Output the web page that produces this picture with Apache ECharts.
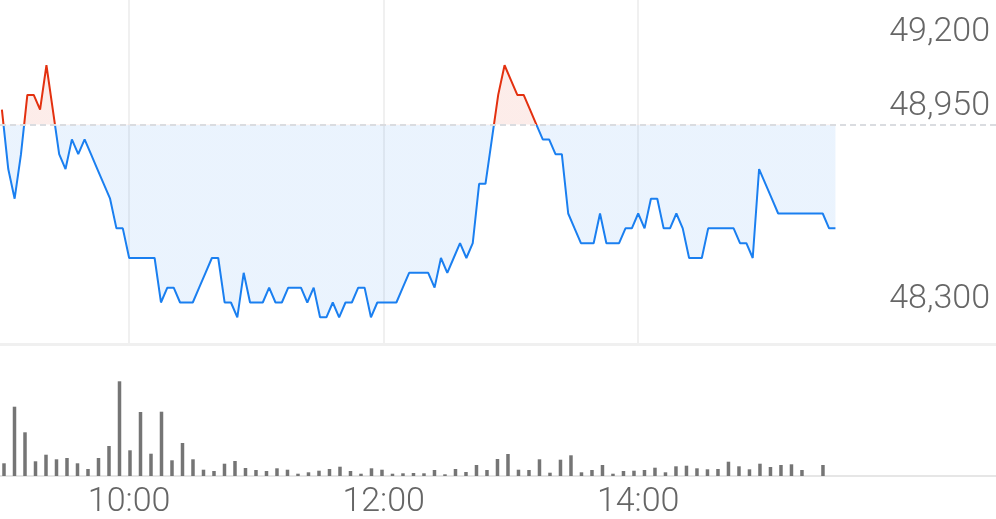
<!DOCTYPE html>
<html>
<head>
<meta charset="utf-8">
<script src="https://cdn.jsdelivr.net/npm/echarts@6/dist/echarts.min.js"></script>
<style>
html,body{margin:0;padding:0;background:#fff;}
#chart{width:996px;height:519px;}
</style>
</head>
<body>
<div id="chart"></div>
<script>
// Previous close (baseline)
const prevClose = 48950;
// Price, sampled every 3 minutes from 09:00
const prices = [
 49000,48800,48700,48850,49050,49050,49000,49150,49000,48850,
 48800,48900,48850,48900,48850,48800,48750,48700,48600,48600,
 48500,48500,48500,48500,48500,48350,48400,48400,48350,48350,
 48350,48400,48450,48500,48500,48350,48350,48300,48450,48350,
 48350,48350,48400,48350,48350,48400,48400,48400,48350,48400,
 48300,48300,48350,48300,48350,48350,48400,48400,48300,48350,
 48350,48350,48350,48400,48450,48450,48450,48450,48400,48500,
 48450,48500,48550,48500,48550,48750,48750,48900,49050,49150,
 49100,49050,49050,49000,48950,48900,48900,48850,48850,48650,
 48600,48550,48550,48550,48650,48550,48550,48550,48600,48600,
 48650,48600,48700,48700,48600,48600,48650,48600,48500,48500,
 48500,48600,48600,48600,48600,48600,48550,48550,48500,48800,
 48750,48700,48650,48650,48650,48650,48650,48650,48650,48650,
 48600,48600
];
const priceStep = 3; // minutes
// Volume, one bar per 5 minutes from 09:00 (relative units)
const volumes = [
 127,693,437,147,213,167,180,127,70,180,
 300,947,257,640,223,643,157,330,167,63,
 50,123,150,80,60,50,77,63,23,37,
 53,70,93,50,23,77,63,23,27,30,
 27,60,17,70,40,110,60,170,220,63,
 60,167,33,163,207,37,60,110,23,50,
 53,60,83,37,97,103,77,67,70,143,
 97,67,123,90,110,117,60,0,110
];
const volStep = 5; // minutes
// Axis labels
const timeTicks = [60, 180, 300];           // minutes after 09:00
const priceTicks = [48300, 48950, 49200];

const priceData = prices.map((p, i) => [i * priceStep, p]);
const volData = volumes.map((v, i) => [i * volStep, v]);

function fmtTime(m) {
  const h = 9 + Math.floor(m / 60);
  const mm = m % 60;
  return h + ':' + (mm < 10 ? '0' + mm : mm);
}
function fmtPrice(v) {
  return String(Math.round(v)).replace(/\B(?=(\d{3})+(?!\d))/g, ',');
}

const FONT = 'Roboto, "Noto Sans", sans-serif';
const TEXT = '#666666';
const RED = '#e3300f';
const BLUE = '#1a7ff0';

const chart = echarts.init(document.getElementById('chart'), null, {renderer: 'canvas'});
chart.setOption({
  animation: false,
  backgroundColor: '#ffffff',
  grid: [
    {left: 0, right: 0, top: 0, height: 346.3},
    {left: 0, right: 0, top: 376, height: 100}
  ],
  xAxis: [
    {
      type: 'value', gridIndex: 0, min: -0.896, max: 468.7,
      axisLine: {show: true, lineStyle: {color: '#f0f0f0', width: 3}},
      axisTick: {show: false, customValues: timeTicks},
      splitLine: {show: true, lineStyle: {color: '#f0f0f0', width: 2}},
      axisLabel: {
        customValues: timeTicks, formatter: v => fmtTime(v),
        margin: 141, fontSize: 34, fontWeight: 300, fontFamily: FONT,
        color: TEXT, lineHeight: 34
      }
    },
    {
      type: 'value', gridIndex: 1, min: -1.905, max: 472.4,
      axisLine: {show: true, lineStyle: {color: '#e6e6e6', width: 2}},
      axisTick: {show: false}, splitLine: {show: false}, axisLabel: {show: false}
    }
  ],
  yAxis: [
    {
      type: 'value', gridIndex: 0, position: 'right', min: 48210, max: 49370,
      axisLine: {show: false}, axisTick: {show: false}, splitLine: {show: false},
      axisLabel: {
        customValues: priceTicks, formatter: v => fmtPrice(v),
        inside: true, margin: 6, align: 'right', verticalAlign: 'bottom',
        padding: [0, 0, 1, 0], lineHeight: 34,
        fontSize: 34, fontWeight: 300, fontFamily: FONT, color: TEXT
      }
    },
    {
      type: 'value', gridIndex: 1, min: 0, max: 1000, show: false,
      splitLine: {show: false}
    }
  ],
  visualMap: {
    type: 'piecewise', show: false, seriesIndex: 0, dimension: 1,
    pieces: [
      {gt: prevClose, lte: 60000, color: RED},
      {gte: 40000, lte: prevClose, color: BLUE}
    ],
    outOfRange: {color: BLUE}
  },
  series: [
    {
      type: 'line', xAxisIndex: 0, yAxisIndex: 0, data: priceData,
      showSymbol: false, symbol: 'none',
      lineStyle: {width: 2},
      areaStyle: {origin: prevClose, opacity: 0.09},
      markLine: {
        silent: true, symbol: 'none', label: {show: false},
        lineStyle: {color: '#dadce0', type: [6, 4], width: 2},
        data: [{yAxis: prevClose}]
      },
      z: 3
    },
    {
      type: 'bar', xAxisIndex: 1, yAxisIndex: 1, data: volData,
      barWidth: 3.5, itemStyle: {color: '#757575'}
    }
  ]
});
</script>
</body>
</html>
